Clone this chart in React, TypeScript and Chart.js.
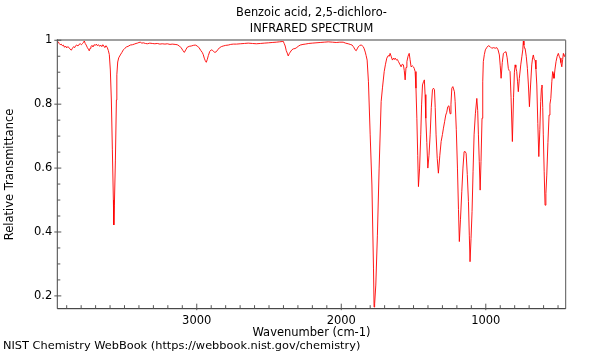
import { useEffect, useRef } from 'react';
import { Chart, registerables } from 'chart.js';

Chart.register(...registerables);

const chartTitle = ['Benzoic acid, 2,5-dichloro-', 'INFRARED SPECTRUM'];
const xAxisTitle = 'Wavenumber (cm-1)';
const yAxisTitle = 'Relative Transmittance';
const footerText = 'NIST Chemistry WebBook (https://webbook.nist.gov/chemistry)';

const xTickValues = [1000, 2000, 3000];
const yTickValues = [0.2, 0.4, 0.6, 0.8, 1];

const X_MIN = 447;
const X_MAX = 3965;
const Y_MIN = 0.16;
const Y_MAX = 1.0;

const wavenumbers = [
  3965, 3958, 3952, 3945, 3938, 3930, 3923, 3915, 3908, 3900, 3893, 3886, 3878, 3868, 3860, 3852, 3845, 3838, 3830, 3822,
  3815, 3806, 3798, 3790, 3783, 3778, 3772, 3765, 3758, 3750, 3744, 3738, 3732, 3725, 3718, 3710, 3702, 3695, 3688, 3680,
  3672, 3665, 3657, 3650, 3643, 3636, 3628, 3620, 3612, 3605, 3598, 3591, 3584, 3577, 3574, 3570, 3563, 3556, 3553, 3547,
  3540, 3529, 3518, 3508, 3497, 3487, 3475, 3460, 3445, 3432, 3420, 3411, 3400, 3391, 3380, 3370, 3355, 3342, 3325, 3308,
  3290, 3273, 3255, 3239, 3220, 3204, 3185, 3170, 3150, 3135, 3120, 3107, 3096, 3086, 3076, 3066, 3052, 3038, 3024, 3010,
  2996, 2983, 2972, 2962, 2955, 2948, 2941, 2934, 2927, 2920, 2910, 2900, 2893, 2886, 2875, 2865, 2855, 2844, 2830, 2817,
  2800, 2782, 2765, 2747, 2725, 2699, 2670, 2644, 2615, 2588, 2560, 2533, 2505, 2478, 2450, 2429, 2410, 2402, 2395, 2388,
  2381, 2374, 2367, 2360, 2353, 2342, 2332, 2320, 2312, 2298, 2284, 2265, 2249, 2225, 2201, 2175, 2146, 2118, 2090, 2060,
  2035, 2010, 1987, 1970, 1952, 1938, 1925, 1918, 1911, 1904, 1897, 1890, 1883, 1872, 1862, 1855, 1848, 1841, 1834, 1828,
  1821, 1812, 1800, 1788, 1777, 1773, 1769, 1761, 1750, 1738, 1724, 1715, 1703, 1694, 1685, 1675, 1668, 1662, 1655, 1646,
  1638, 1632, 1627, 1618, 1612, 1604, 1595, 1586, 1578, 1570, 1564, 1558, 1552, 1546, 1538, 1530, 1524, 1517, 1508, 1501,
  1495, 1489, 1483, 1477, 1471, 1466, 1458, 1450, 1444, 1438, 1431, 1425, 1420, 1415, 1408, 1401, 1393, 1385, 1377, 1369,
  1362, 1355, 1350, 1344, 1336, 1328, 1318, 1309, 1300, 1293, 1285, 1277, 1270, 1263, 1255, 1247, 1241, 1235, 1228, 1217,
  1212, 1204, 1196, 1189, 1183, 1175, 1166, 1158, 1150, 1143, 1136, 1128, 1120, 1114, 1109, 1102, 1095, 1088, 1081, 1072,
  1062, 1056, 1051, 1045, 1039, 1033, 1026, 1021, 1017, 1010, 1003, 992, 982, 970, 959, 945, 935, 924, 915, 906,
  900, 894, 886, 878, 870, 860, 852, 844, 838, 832, 825, 816, 808, 802, 797, 792, 786, 780, 775, 768,
  758, 750, 744, 740, 736, 732, 728, 720, 712, 705, 698, 690, 682, 676, 671, 665, 659, 653, 647, 640,
  633, 626, 620, 615, 611, 606, 602, 596, 590, 584, 578, 570, 562, 556, 550, 543, 537, 532, 528, 521,
  514, 506, 498, 492, 486, 480, 474, 468, 463, 458, 452, 447,
];

const transmittance = [
  0.998, 0.995, 0.990, 0.986, 0.988, 0.983, 0.985, 0.978, 0.982, 0.976, 0.980, 0.978, 0.973, 0.969, 0.975, 0.980, 0.977, 0.983, 0.985, 0.982,
  0.987, 0.989, 0.986, 0.990, 0.994, 0.998, 0.990, 0.985, 0.978, 0.972, 0.967, 0.975, 0.980, 0.984, 0.979, 0.986, 0.984, 0.988, 0.983, 0.986,
  0.981, 0.985, 0.980, 0.986, 0.982, 0.977, 0.983, 0.978, 0.968, 0.955, 0.907, 0.813, 0.657, 0.500, 0.422, 0.484, 0.625, 0.813, 0.892, 0.932,
  0.945, 0.954, 0.962, 0.970, 0.975, 0.979, 0.981, 0.985, 0.986, 0.988, 0.990, 0.991, 0.993, 0.994, 0.991, 0.992, 0.990, 0.989, 0.991, 0.990,
  0.989, 0.990, 0.988, 0.989, 0.988, 0.989, 0.987, 0.988, 0.987, 0.986, 0.982, 0.976, 0.968, 0.962, 0.970, 0.978, 0.981, 0.982, 0.984, 0.985,
  0.982, 0.976, 0.968, 0.962, 0.955, 0.944, 0.936, 0.931, 0.940, 0.952, 0.965, 0.970, 0.969, 0.966, 0.962, 0.964, 0.970, 0.976, 0.980, 0.982,
  0.984, 0.985, 0.987, 0.988, 0.988, 0.989, 0.990, 0.991, 0.990, 0.989, 0.990, 0.991, 0.992, 0.993, 0.994, 0.995, 0.996, 0.997, 0.990, 0.982,
  0.968, 0.960, 0.951, 0.958, 0.963, 0.970, 0.973, 0.974, 0.976, 0.981, 0.985, 0.987, 0.988, 0.990, 0.991, 0.992, 0.993, 0.994, 0.995, 0.994,
  0.993, 0.994, 0.994, 0.991, 0.989, 0.987, 0.985, 0.981, 0.976, 0.970, 0.967, 0.973, 0.979, 0.984, 0.985, 0.983, 0.980, 0.973, 0.963, 0.952,
  0.938, 0.870, 0.704, 0.547, 0.287, 0.165, 0.175, 0.234, 0.390, 0.600, 0.808, 0.851, 0.902, 0.925, 0.944, 0.952, 0.950, 0.959, 0.950, 0.938,
  0.944, 0.940, 0.944, 0.938, 0.940, 0.933, 0.925, 0.917, 0.925, 0.923, 0.905, 0.876, 0.915, 0.933, 0.950, 0.959, 0.940, 0.917, 0.920, 0.917,
  0.912, 0.902, 0.850, 0.756, 0.640, 0.542, 0.600, 0.704, 0.800, 0.860, 0.870, 0.876, 0.830, 0.756, 0.680, 0.600, 0.640, 0.704, 0.790, 0.845,
  0.850, 0.845, 0.790, 0.704, 0.630, 0.584, 0.640, 0.683, 0.705, 0.725, 0.745, 0.766, 0.775, 0.792, 0.795, 0.770, 0.800, 0.850, 0.855, 0.839,
  0.808, 0.720, 0.600, 0.470, 0.370, 0.440, 0.526, 0.600, 0.651, 0.652, 0.646, 0.580, 0.495, 0.390, 0.307, 0.380, 0.464, 0.590, 0.704, 0.770,
  0.818, 0.780, 0.704, 0.620, 0.531, 0.620, 0.756, 0.870, 0.933, 0.955, 0.970, 0.978, 0.983, 0.980, 0.975, 0.977, 0.975, 0.977, 0.970, 0.954,
  0.920, 0.881, 0.930, 0.959, 0.962, 0.964, 0.945, 0.912, 0.905, 0.902, 0.820, 0.683, 0.820, 0.900, 0.923, 0.915, 0.902, 0.870, 0.839, 0.880,
  0.923, 0.950, 0.970, 0.999, 0.985, 0.975, 0.975, 0.950, 0.912, 0.860, 0.792, 0.860, 0.923, 0.945, 0.954, 0.940, 0.938, 0.910, 0.860, 0.740,
  0.636, 0.720, 0.808, 0.850, 0.860, 0.790, 0.704, 0.590, 0.484, 0.520, 0.578, 0.680, 0.766, 0.800, 0.818, 0.870, 0.902, 0.895, 0.881, 0.910,
  0.933, 0.950, 0.959, 0.950, 0.944, 0.930, 0.917, 0.940, 0.959, 0.950, 0.954, 0.960,
];

const FONT = 'DejaVu Sans';

const framePlugin = {
  id: 'spectrumFrame',
  afterDraw(chart: any) {
    const { ctx, chartArea: a, scales } = chart;
    const xs = scales.x;
    const ys = scales.y;
    const seg = (x1: number, y1: number, x2: number, y2: number) => {
      ctx.beginPath();
      ctx.moveTo(x1, y1);
      ctx.lineTo(x2, y2);
      ctx.stroke();
    };
    ctx.save();
    ctx.lineWidth = 2;
    ctx.strokeStyle = '#a0a0a0';
    seg(a.left, a.top - 0.3, a.right, a.top - 0.3);
    ctx.lineWidth = 1;
    ctx.strokeStyle = '#555555';
    seg(a.right, a.top, a.right, a.bottom);
    ctx.strokeStyle = '#444444';
    seg(a.left, a.top - 1, a.left, a.bottom);
    ctx.strokeStyle = '#222222';
    seg(a.left, a.bottom, a.right, a.bottom);

    ctx.strokeStyle = '#555555';
    ctx.lineWidth = 1;
    for (let v = Math.ceil(X_MIN / 100) * 100; v <= X_MAX; v += 100) {
      const px = xs.getPixelForValue(v);
      if (xTickValues.includes(v)) seg(px, a.bottom + 1.5, px, a.bottom - 5);
      else seg(px, a.bottom, px, a.bottom - 3.5);
    }
    for (let i = Math.ceil(Y_MIN * 20); i <= Math.floor(Y_MAX * 20); i++) {
      const v = i / 20;
      const py = ys.getPixelForValue(v);
      if (i % 4 === 0) seg(a.left - 3, py, a.left + 4, py);
      else seg(a.left, py, a.left + 3, py);
    }
    ctx.restore();
  },
};

export default function App() {
  const canvasRef = useRef<HTMLCanvasElement | null>(null);

  useEffect(() => {
    document.body.style.margin = '0';
    const canvas = canvasRef.current;
    if (!canvas) return;
    const chart = new Chart(canvas, {
      type: 'line',
      data: {
        datasets: [
          {
            data: wavenumbers.map((w, i) => ({ x: w, y: transmittance[i] })),
            borderColor: 'rgba(255,0,0,0.9)',
            borderWidth: 1,
            pointRadius: 0,
            tension: 0,
            fill: false,
          },
        ],
      },
      options: {
        animation: false,
        responsive: false,
        devicePixelRatio: 1,
        layout: { padding: { left: 3, right: 34.3, top: 0, bottom: 0 } },
        plugins: {
          legend: { display: false },
          tooltip: { enabled: false },
          title: {
            display: true,
            text: chartTitle,
            fullSize: false,
            color: '#000000',
            font: { family: FONT, size: 11.4, weight: 'normal', lineHeight: 1.45 },
            padding: { top: 4.3, bottom: 2.9 },
          },
          subtitle: {
            display: true,
            text: footerText,
            position: 'bottom',
            align: 'start',
            fullSize: true,
            color: '#000000',
            font: { family: FONT, size: 11.35, weight: 'normal', lineHeight: 1.2 },
            padding: { top: 0, bottom: 7.2 },
          },
        },
        scales: {
          x: {
            type: 'linear',
            reverse: true,
            min: X_MIN,
            max: X_MAX,
            grid: { display: false, drawTicks: false },
            border: { display: false },
            afterBuildTicks: (scale: any) => {
              scale.ticks = xTickValues.map((v) => ({ value: v }));
            },
            afterFit: (scale: any) => {
              scale.height = 30.5;
            },
            ticks: {
              autoSkip: false,
              maxRotation: 0,
              padding: 5,
              color: '#000000',
              font: { family: FONT, size: 11.5 },
              callback: (v: any) => String(v),
            },
            title: {
              display: true,
              text: xAxisTitle,
              color: '#000000',
              font: { family: FONT, size: 11.5, lineHeight: 1.1 },
              padding: { top: 0, bottom: 0 },
            },
          },
          y: {
            type: 'linear',
            min: Y_MIN,
            max: Y_MAX,
            grid: { display: false, drawTicks: false },
            border: { display: false },
            afterBuildTicks: (scale: any) => {
              scale.ticks = yTickValues.map((v) => ({ value: v }));
            },
            afterFit: (scale: any) => {
              scale.width = 54.3;
            },
            ticks: {
              autoSkip: false,
              padding: 5,
              color: '#000000',
              font: { family: FONT, size: 11.5 },
              callback: (v: any) => String(v),
            },
            title: {
              display: true,
              text: yAxisTitle,
              color: '#000000',
              font: { family: FONT, size: 11.5, lineHeight: 1.1 },
              padding: { top: 0.7, bottom: 0 },
            },
          },
        },
      },
      plugins: [framePlugin],
    } as any);
    return () => chart.destroy();
  }, []);

  return (
    <div style={{ width: 600, height: 360 }}>
      <canvas ref={canvasRef} width={600} height={360} style={{ display: 'block' }} />
    </div>
  );
}
